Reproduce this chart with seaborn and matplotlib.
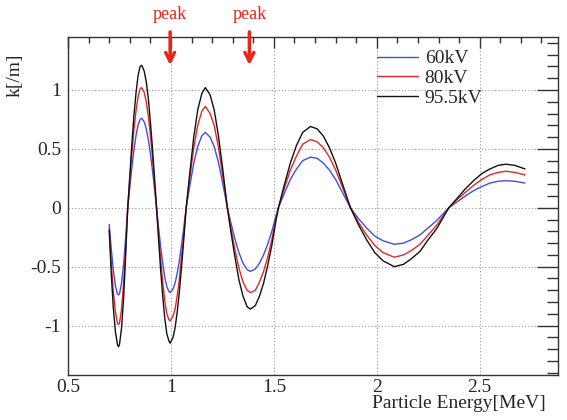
import numpy as np
import pandas as pd
import seaborn as sns
import matplotlib.pyplot as plt
from matplotlib.ticker import MultipleLocator

# energie (MeV) et k[/m]
energie = [0.70, 0.71, 0.72, 0.73, 0.74, 0.745, 0.75, 0.76, 0.77, 0.78,
           0.79, 0.80, 0.81, 0.82, 0.83, 0.84, 0.85, 0.858, 0.87, 0.88,
           0.89, 0.90, 0.91, 0.92, 0.93, 0.94, 0.95, 0.96, 0.97, 0.98,
           0.99, 0.996, 1.01, 1.02, 1.03, 1.04, 1.05, 1.06, 1.074, 1.09,
           1.11, 1.13, 1.15, 1.167, 1.19, 1.21, 1.23, 1.25, 1.274, 1.29,
           1.31, 1.33, 1.35, 1.37, 1.386, 1.41, 1.43, 1.45, 1.47, 1.49,
           1.51, 1.522, 1.55, 1.58, 1.61, 1.64, 1.678, 1.71, 1.74, 1.77,
           1.80, 1.83, 1.872, 1.91, 1.95, 1.99, 2.03, 2.085, 2.13, 2.17,
           2.21, 2.25, 2.29, 2.35, 2.39, 2.43, 2.47, 2.51, 2.55, 2.59,
           2.627, 2.67, 2.72]

k_60kv = [-0.14, -0.35, -0.53, -0.66, -0.73, -0.74, -0.73, -0.64, -0.48, -0.25,
          0.0, 0.17, 0.34, 0.49, 0.61, 0.70, 0.75, 0.76, 0.73, 0.67,
          0.58, 0.46, 0.32, 0.16, 0.0, -0.17, -0.33, -0.47, -0.59, -0.67,
          -0.71, -0.72, -0.69, -0.64, -0.56, -0.46, -0.33, -0.20, 0.0, 0.17,
          0.37, 0.52, 0.61, 0.64, 0.60, 0.52, 0.39, 0.22, 0.0, -0.12,
          -0.26, -0.38, -0.47, -0.525, -0.54, -0.52, -0.47, -0.40, -0.31, -0.20,
          -0.07, 0.0, 0.12, 0.24, 0.33, 0.40, 0.43, 0.42, 0.38, 0.32,
          0.24, 0.14, 0.0, -0.09, -0.17, -0.24, -0.28, -0.31, -0.30, -0.27,
          -0.23, -0.17, -0.11, 0.0, 0.05, 0.10, 0.145, 0.18, 0.21, 0.225,
          0.23, 0.225, 0.21]

k_80kv = [-0.17, -0.47, -0.71, -0.88, -0.98, -0.99, -0.98, -0.86, -0.64, -0.34,
          0.0, 0.23, 0.46, 0.66, 0.82, 0.94, 1.01, 1.02, 0.98, 0.90,
          0.78, 0.62, 0.43, 0.21, 0.0, -0.23, -0.44, -0.63, -0.79, -0.90,
          -0.95, -0.96, -0.92, -0.86, -0.75, -0.62, -0.44, -0.27, 0.0, 0.23,
          0.50, 0.70, 0.82, 0.86, 0.80, 0.70, 0.52, 0.29, 0.0, -0.16,
          -0.35, -0.51, -0.63, -0.70, -0.72, -0.70, -0.63, -0.54, -0.42, -0.27,
          -0.09, 0.0, 0.16, 0.32, 0.44, 0.54, 0.58, 0.56, 0.51, 0.43,
          0.32, 0.19, 0.0, -0.12, -0.23, -0.32, -0.38, -0.42, -0.40, -0.36,
          -0.31, -0.23, -0.15, 0.0, 0.07, 0.13, 0.19, 0.24, 0.28, 0.30,
          0.31, 0.30, 0.28]

k_95kv = [-0.19, -0.56, -0.85, -1.05, -1.16, -1.18, -1.16, -1.02, -0.77, -0.40,
          0.0, 0.27, 0.54, 0.78, 0.97, 1.12, 1.20, 1.21, 1.16, 1.07,
          0.93, 0.73, 0.51, 0.26, 0.0, -0.27, -0.53, -0.75, -0.94, -1.07,
          -1.13, -1.15, -1.10, -1.02, -0.89, -0.73, -0.53, -0.32, 0.0, 0.27,
          0.59, 0.83, 0.97, 1.02, 0.96, 0.83, 0.62, 0.35, 0.0, -0.19,
          -0.41, -0.61, -0.75, -0.84, -0.86, -0.83, -0.75, -0.64, -0.49, -0.32,
          -0.11, 0.0, 0.19, 0.38, 0.53, 0.64, 0.69, 0.67, 0.61, 0.51,
          0.38, 0.22, 0.0, -0.14, -0.27, -0.38, -0.45, -0.50, -0.48, -0.43,
          -0.37, -0.27, -0.18, 0.0, 0.08, 0.16, 0.23, 0.29, 0.33, 0.36,
          0.37, 0.36, 0.33]

tensions = ["60kV", "80kV", "95.5kV"]
couleurs = ["#3d4fe0", "#e02828", "#111111"]
pics = [0.996, 1.381]

df = pd.concat([
    pd.DataFrame({"E": energie, "k": k, "tension": t})
    for k, t in zip([k_60kv, k_80kv, k_95kv], tensions)
])

sns.set_style("white")
plt.rcParams["font.family"] = ["Liberation Serif", "DejaVu Serif"]

fig = plt.figure(figsize=(5.67, 4.2), dpi=100)
ax = fig.add_axes([0.12, 0.107, 0.864, 0.805])

sns.lineplot(data=df, x="E", y="k", hue="tension", hue_order=tensions,
             palette=couleurs, sort=False, lw=1.0, ax=ax)

ax.set_xlim(0.5, 2.88)
ax.set_ylim(-1.42, 1.45)

ax.xaxis.set_major_locator(MultipleLocator(0.5))
ax.xaxis.set_minor_locator(MultipleLocator(0.1))
ax.yaxis.set_major_locator(MultipleLocator(0.5))
ax.yaxis.set_minor_locator(MultipleLocator(0.1))
ax.set_xticks([0.5, 1, 1.5, 2, 2.5])
ax.set_xticklabels(["0.5", "1", "1.5", "2", "2.5"])
ax.set_yticks([-1, -0.5, 0, 0.5, 1])
ax.set_yticklabels(["-1", "-0.5", "0", "0.5", "1"])

ax.tick_params(axis="x", which="major", direction="in", length=8, width=1,
               top=True, labelsize=14, pad=3, color="#333333")
ax.tick_params(axis="x", which="minor", direction="in", length=4, width=1,
               top=True, color="#333333")
ax.tick_params(axis="y", which="major", direction="in", length=15, width=1,
               right=True, labelsize=14, pad=5, color="#333333")
ax.tick_params(axis="y", which="minor", direction="in", length=8, width=1,
               right=True, color="#333333")
for s in ax.spines.values():
    s.set_color("#333333")
    s.set_linewidth(1.0)

ax.grid(True, which="major", color="#999999", linestyle=(0, (1, 2)), lw=0.8)

ax.set_xlabel("Particle Energy[MeV]", fontsize=14, loc="right")
ax.xaxis.set_label_coords(0.975, -0.06)
ax.set_ylabel("k[/m]", fontsize=14, loc="top")
ax.yaxis.set_label_coords(-0.09, 0.95)

h, l = ax.get_legend_handles_labels()
ax.legend(h, l, loc="upper left", bbox_to_anchor=(0.615, 0.985), frameon=False,
          fontsize=14, handlelength=2.1, handletextpad=0.35, labelspacing=0.1,
          borderaxespad=0)

for p in pics:
    ax.annotate("peak", xy=(p, 1.21), xytext=(p, 1.64), ha="center", va="center",
                color="#e8261c", fontsize=13, annotation_clip=False,
                arrowprops=dict(arrowstyle="->", color="#e8261c", lw=2.5,
                                mutation_scale=16, shrinkA=4, shrinkB=0))

fig.savefig("out.png", dpi=100)
